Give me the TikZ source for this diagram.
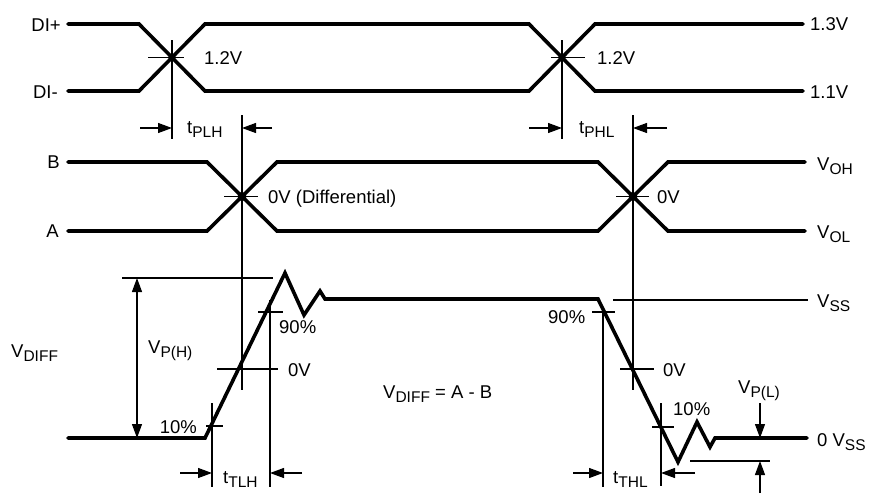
\documentclass[tikz,border=0pt]{standalone}
\usepackage{fontspec}
\setmainfont{Liberation Sans}
\usetikzlibrary{arrows.meta}
\newcommand\lsub[1]{\raisebox{-4pt}{\fontsize{15.5pt}{16pt}\selectfont #1}}
\begin{document}
\begin{tikzpicture}[x=1pt,y=-1pt,
  wave/.style={line width=3.6pt,line cap=round,line join=miter,miter limit=6},
  thin/.style={line width=1.2pt},
  arr/.style={thin,-{Triangle[length=14pt,width=10pt]}},
  darr/.style={thin,{Triangle[length=14pt,width=10pt]}-{Triangle[length=14pt,width=10pt]}},
  lbl/.style={inner sep=0pt,font=\fontsize{18.5pt}{20pt}\selectfont},
  lw/.style={lbl,anchor=base west},
  le/.style={lbl,anchor=base east}]
\useasboundingbox (0,0) rectangle (870,493);

% ---- top: DI+ / DI-
\draw[wave] (68,24) -- (139,24) -- (205,91) -- (529,91) -- (595,24) -- (803,24);
\draw[wave] (68,91) -- (139,91) -- (205,24) -- (529,24) -- (595,91) -- (803,91);
\node[le] (dip) at (61,31) {DI+};
\node[le] (dim) at (58,98) {DI-};
\node[lw] (v12a) at (204,64) {1.2V};
\node[lw] (v12b) at (597,64) {1.2V};
\node[lw] (v13) at (810,30) {1.3V};
\node[lw] (v11) at (810,98) {1.1V};

% crossings top
\coordinate (c1t) at (172,40); \coordinate (c1b) at (172,139);
\coordinate (c2t) at (562,40); \coordinate (c2b) at (562,139);
\draw[thin] (c1t) -- (c1b);
\draw[thin] (c2t) -- (c2b);
\coordinate (h1a) at (148,57.5); \coordinate (h1b) at (184,57.5);
\coordinate (h2a) at (551,57.5); \coordinate (h2b) at (585,57.5);
\draw[thin] (h1a) -- (h1b);
\draw[thin] (h2a) -- (h2b);

% ---- middle: B / A
\draw[wave] (68,162) -- (207,162) -- (277,231) -- (598,231) -- (668,162) -- (805,162);
\draw[wave] (68,231) -- (207,231) -- (277,162) -- (598,162) -- (668,231) -- (805,231);
\node[le] (lb) at (60,168.5) {B};
\node[le] (la) at (59,237.5) {A};
\node[lw] (v0d) at (268,203.5) {0V (Differential)};
\node[lw] (v0m) at (657,203.5) {0V};
\node[lw] (voh) at (817,170) {V\lsub{OH}};
\node[lw] (vol) at (817,238) {V\lsub{OL}};
\fill (242,196.5) circle (4.5pt);
\fill (633,196.5) circle (4.5pt);

\coordinate (v3t) at (242,115); \coordinate (v3b) at (242,390);
\coordinate (v4t) at (633,115); \coordinate (v4b) at (633,390);
\draw[thin] (v3t) -- (v3b);
\draw[thin] (v4t) -- (v4b);
\draw[thin] (224,196.5) -- (258,196.5);
\draw[thin] (616,196.5) -- (649,196.5);

% tPLH / tPHL
\coordinate (pa) at (140,128); \coordinate (pb) at (272,128);
\draw[arr] (pa) -- (c1b |- pa);
\draw[arr] (pb) -- (v3t |- pb);
\node[lw] (tplh) at (187,133) {t\lsub{PLH}};
\coordinate (qa) at (529,128); \coordinate (qb) at (667,128);
\draw[arr] (qa) -- (c2b |- qa);
\draw[arr] (qb) -- (v4t |- qb);
\node[lw] (tphl) at (579,133) {t\lsub{PHL}};

% ---- bottom: V_DIFF waveform
\draw[wave] (68,438) -- (205,438) -- (285,273) -- (304,315) -- (320,291) -- (325,299)
  -- (598,299) -- (678,462) -- (697,422) -- (710,447) -- (715,438) -- (807,438);

% left transition markers
\draw[thin] (122,278) -- (273,278);
\coordinate (vpt) at (137,278); \coordinate (vpb) at (137,438);
\draw[darr] (vpt) -- (vpb);
\draw[thin] (217,369) -- (278,369);
\coordinate (t10t) at (212,403); \coordinate (t10b) at (212,487);
\draw[thin] (t10t) -- (t10b);
\draw[thin] (206,426) -- (223,426);
\coordinate (t90t) at (270,300); \coordinate (t90b) at (270,487);
\draw[thin] (t90t) -- (t90b);
\draw[thin] (258,312) -- (283,312);
\coordinate (ta) at (180,473); \coordinate (tb) at (302,473);
\draw[arr] (ta) -- (t10b |- ta);
\draw[arr] (tb) -- (t90b |- tb);

\node[lw] (vdiff) at (11,357) {V\lsub{DIFF}};
\node[lw] (vph) at (148,353) {V\lsub{P(H)}};
\node[lw] (p90a) at (279,333) {90\%};
\node[lw] (z0a) at (288,376) {0V};
\node[le] (p10a) at (197,433) {10\%};
\node[lw] (ttlh) at (223,483) {t\lsub{TLH}};
\node[lw] (eq) at (383,398) {V\lsub{DIFF} = A - B};

% right transition markers
\draw[thin] (613,300) -- (808,300);
\coordinate (r90t) at (603,310); \coordinate (r90b) at (603,487);
\draw[thin] (r90t) -- (r90b);
\draw[thin] (592,312) -- (615,312);
\draw[thin] (620,369) -- (654,369);
\coordinate (r10t) at (661,403); \coordinate (r10b) at (661,486);
\draw[thin] (r10t) -- (r10b);
\draw[thin] (652,427) -- (674,427);
\coordinate (ra) at (573,473); \coordinate (rb) at (695,473);
\draw[arr] (ra) -- (r90b |- ra);
\draw[arr] (rb) -- (r10b |- rb);
\draw[thin] (690,461) -- (770,461);
\coordinate (vlt) at (760,403); \coordinate (vlm) at (760,438);
\coordinate (vlb) at (760,493); \coordinate (vll) at (760,461);
\draw[arr] (vlt) -- (vlm);
\draw[arr] (vlb) -- (vll);

\node[lw] (vss) at (817,307) {V\lsub{SS}};
\node[lw] (zvss) at (817,446) {0 V\lsub{SS}};
\node[lw] (p90b) at (548,323) {90\%};
\node[lw] (z0b) at (663,376) {0V};
\node[lw] (p10b) at (673,415) {10\%};
\node[lw] (vpl) at (738,393) {V\lsub{P(L)}};
\node[lw] (tthl) at (613,483) {t\lsub{THL}};
\end{tikzpicture}
\end{document}
